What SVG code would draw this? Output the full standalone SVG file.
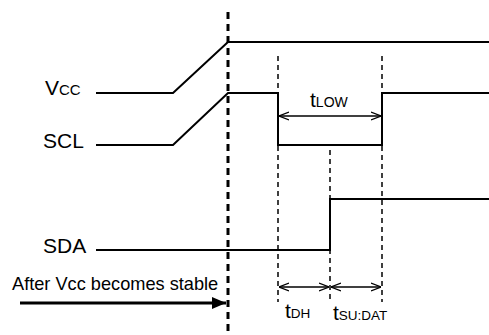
<svg xmlns="http://www.w3.org/2000/svg" width="489" height="335" viewBox="0 0 489 335">
<defs>
<style>
.sig{fill:none;stroke:#000;stroke-width:2;stroke-linejoin:miter}
.dash{fill:none;stroke:#000;stroke-width:1.5;stroke-dasharray:5 4}
.main{fill:none;stroke:#000;stroke-width:3;stroke-dasharray:7 5}
.dim{fill:none;stroke:#000;stroke-width:1.6}
.lbl{font-family:"Liberation Sans",Arial,sans-serif;fill:#000}
</style>
<marker id="open" viewBox="0 0 10 10" refX="10" refY="5" markerWidth="10" markerHeight="10" markerUnits="userSpaceOnUse" orient="auto-start-reverse">
<path d="M0,1 L10,5 L0,9" fill="none" stroke="#000" stroke-width="1.2"/>
</marker>
<marker id="solid" viewBox="0 0 14 12" refX="14" refY="6" markerWidth="14" markerHeight="12" markerUnits="userSpaceOnUse" orient="auto">
<path d="M0,0 L14,6 L0,12 Z" fill="#000"/>
</marker>
</defs>
<g id="guides">
<line class="dash" x1="278" y1="56" x2="278" y2="302"/>
<line class="dash" x1="382" y1="56" x2="382" y2="302"/>
<line class="dash" x1="330" y1="150" x2="330" y2="302"/>
</g>
<g id="vcc">
<polyline class="sig" points="96,93 173,93 228,42 489,42"/>
<text class="lbl" x="45" y="95" font-size="21">V<tspan font-size="15">CC</tspan></text>
</g>
<g id="scl">
<polyline class="sig" points="96,145 173,145 228,93 278,93 278,145 382,145 382,93 489,93"/>
<text class="lbl" x="43" y="148" font-size="21">SCL</text>
</g>
<g id="sda">
<polyline class="sig" points="96,250 330,250 330,199 489,199"/>
<text class="lbl" x="43" y="253" font-size="21">SDA</text>
</g>
<g id="connectors">
<line class="main" x1="228" y1="12" x2="228" y2="335"/>
<line class="dim" x1="279" y1="116" x2="381" y2="116" marker-start="url(#open)" marker-end="url(#open)"/>
<line class="dim" x1="279" y1="287" x2="329" y2="287" marker-start="url(#open)" marker-end="url(#open)"/>
<line class="dim" x1="331" y1="287" x2="381" y2="287" marker-start="url(#open)" marker-end="url(#open)"/>
<line x1="20" y1="303" x2="226" y2="303" stroke="#000" stroke-width="3" marker-end="url(#solid)"/>
</g>
<g id="labels">
<text class="lbl" x="310" y="107" font-size="21">t<tspan font-size="14">LOW</tspan></text>
<text class="lbl" x="285" y="318" font-size="21">t<tspan font-size="13.5">DH</tspan></text>
<text class="lbl" x="333" y="320" font-size="21">t<tspan font-size="13.5">SU:DAT</tspan></text>
<text class="lbl" x="12" y="290" font-size="18.2">After Vcc becomes stable</text>
</g>
</svg>
